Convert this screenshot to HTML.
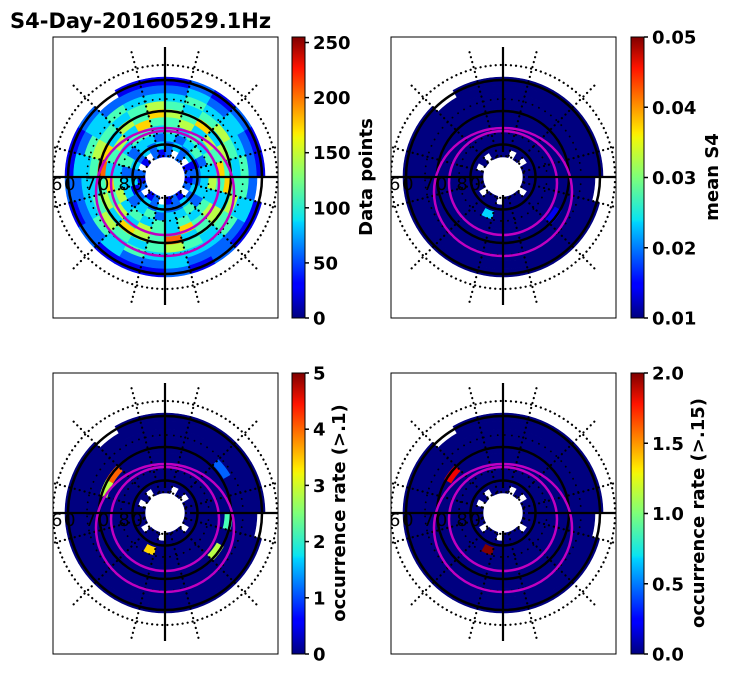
<!DOCTYPE html>
<html><head><meta charset="utf-8"><style>
html,body{margin:0;padding:0;background:#fff;}
svg text{font-family:"DejaVu Sans","Liberation Sans",sans-serif;}
</style></head><body>
<svg id="fig" width="731" height="674" viewBox="0 0 731 674" xmlns="http://www.w3.org/2000/svg">
<defs>
<linearGradient id="jet" x1="0" y1="1" x2="0" y2="0">
<stop offset="0" stop-color="#00007f"/><stop offset="0.11" stop-color="#0000ff"/><stop offset="0.125" stop-color="#0000ff"/>
<stop offset="0.34" stop-color="#00d4ff"/><stop offset="0.35" stop-color="#0ae4f0"/><stop offset="0.5" stop-color="#7dff7a"/>
<stop offset="0.64" stop-color="#f0f80a"/><stop offset="0.66" stop-color="#ffea00"/><stop offset="0.89" stop-color="#ff1300"/>
<stop offset="1" stop-color="#7f0000"/></linearGradient>
</defs>
<text x="10" y="28" font-size="21" font-weight="bold">S4-Day-20160529.1Hz</text>
</svg>
<script>
// ---- data (ring rows inner->outer, 24 sectors each; digit = fraction of colour-scale max /9; '.' = no data)
const ringEdges = [20,28,36,44,52,60,68,76,84,92,100];
const panel1Rows = [
"2.2.1212.121.21.212.1.21",
"232312232322323213232323",
"323423332433243233242332",
"434343534343434354343443",
"453546435463453546345364",
"546354635437456354763546",
"434543454345434543454345",
"343334434333343433343433",
"232322232223223222323222",
"121211.11212111212112.11"];
const panel2Rows = [
"0.0.0000.000.00.000.0.00",
"000000000000000000000000",
"000000000000030000000000",
"000000000000000000000000",
"000000000000000000000000",
"000000001000000000000000",
"000000000000000000000000",
"000000000000000000000000",
"000000000000000000000000",
"000000.00000000000000.00"];
const panel3Rows = [
"0.0.0000.000.00.000.0.00",
"000000000000000000000000",
"000000000000060000000000",
"000000000000000000000000",
"000000000000000000000000",
"000000405000000000057000",
"000200000000000000000000",
"000000000000000000000000",
"000000000000000000000000",
"000000.00000000000000.00"];
const panel4Rows = [
"0.0.0000.000.00.000.0.00",
"000000000000000000000000",
"000000000000090000000000",
"000000000000000000000000",
"000000000000000000000000",
"000000000000000000008000",
"000000000000000000000000",
"000000000000000000000000",
"000000000000000000000000",
"000000.00000000000000.00"];
const cbTicks1 = ["0","50","100","150","200","250"], cbVals1=[0,50,100,150,200,250];
const cbTicks2 = ["0.01","0.02","0.03","0.04","0.05"], cbVals2=[0.01,0.02,0.03,0.04,0.05];
const cbTicks3 = ["0","1","2","3","4","5"], cbVals3=[0,1,2,3,4,5];
const cbTicks4 = ["0.0","0.5","1.0","1.5","2.0"], cbVals4=[0,0.5,1,1.5,2];

const NS="http://www.w3.org/2000/svg";
const svg=document.getElementById('fig');
function mk(tag,attrs,parent){const e=document.createElementNS(NS,tag);for(const k in attrs)e.setAttribute(k,attrs[k]);(parent||svg).appendChild(e);return e;}
function jet(t){t=Math.max(0,Math.min(1,t));
 const r=Math.max(0,Math.min(1,1.5-Math.abs(4*t-3))),g=Math.max(0,Math.min(1,1.5-Math.abs(4*t-2))),b=Math.max(0,Math.min(1,1.5-Math.abs(4*t-1)));
 return `rgb(${Math.round(r*255)},${Math.round(g*255)},${Math.round(b*255)})`;}
function polar(cx,cy,r,deg){const a=deg*Math.PI/180;return [cx+r*Math.sin(a),cy-r*Math.cos(a)];}

function drawPanel(name,x0,y0,rows,vmin,vmax,ticks,vals,cbx,label,labelX){
 const g=mk('g',{});
 
 
 const cx=x0+112,cy=y0+140;
 const clip=mk('clipPath',{id:name+'-clip'},g);mk('rect',{x:x0,y:y0,width:225,height:281},clip);
 const inner=mk('g',{'clip-path':`url(#${name}-clip)`},g);
 const nS=rows[0].length;
 rows.forEach((row,i)=>{for(let s=0;s<nS;s++){const ch=row[s];if(ch==='.')continue;
  const v=vmin+(+ch)/9*(vmax-vmin);const r0=ringEdges[i],r1=ringEdges[i+1];
  const a0=s*360/nS,a1=(s+1)*360/nS;const p1=polar(cx,cy,r0,a0),p2=polar(cx,cy,r1,a0),p3=polar(cx,cy,r1,a1),p4=polar(cx,cy,r0,a1);
  const col=jet((v-vmin)/(vmax-vmin));
  const c=mk('path',{d:`M${p1}L${p2}A${r1},${r1} 0 0 1 ${p3}L${p4}A${r0},${r0} 0 0 0 ${p1}Z`,fill:col,stroke:col,'stroke-width':0.6},inner);
  
  }});
 [32.5,66,97].forEach(r=>{const c=mk('circle',{cx,cy,r,fill:'none',stroke:'#000','stroke-width':2.5},inner);
  });
 [21,112].forEach(r=>{const c=mk('circle',{cx,cy,r,fill:'none',stroke:'#000','stroke-width':2.2,'stroke-dasharray':'0.1 5','stroke-linecap':'round'},inner);
  });
 [44,78].forEach(r=>{const c=mk('circle',{cx,cy,r,fill:'none',stroke:'#000','stroke-width':1.8,'stroke-dasharray':'0.1 7','stroke-linecap':'round'},inner);
  });
 for(let k=0;k<12;k++){const a=15+30*k;const p=polar(cx,cy,22,a),q=polar(cx,cy,132,a);
  const l=mk('line',{x1:p[0],y1:p[1],x2:q[0],y2:q[1],stroke:'#000','stroke-width':2.2,'stroke-dasharray':'0.1 5','stroke-linecap':'round'},inner);
  }
 const m1=mk('ellipse',{cx,cy:cy+15,rx:69,ry:64,fill:'none',stroke:'#c000c0','stroke-width':2.5},inner);
 
 const m2=mk('ellipse',{cx,cy:cy+6,rx:54,ry:52,fill:'none',stroke:'#c000c0','stroke-width':2.5},inner);
 
 mk('line',{x1:cx,y1:cy-130,x2:cx,y2:cy-25,stroke:'#000','stroke-width':2.2},inner);
 mk('line',{x1:cx,y1:cy+18,x2:cx,y2:cy+128,stroke:'#000','stroke-width':2.2},inner);
 mk('line',{x1:x0,y1:cy,x2:cx-20,y2:cy,stroke:'#000','stroke-width':2.2},inner);
 mk('line',{x1:cx+25,y1:cy,x2:x0+225,y2:cy,stroke:'#000','stroke-width':2.2},inner);
 const t=mk('text',{x:x0-2,y:cy+13,'font-size':18,fill:'#000','textLength':92},inner);t.textContent='60 70 80';
 
 const b=mk('rect',{x:x0,y:y0,width:225,height:281,fill:'none',stroke:'#000','stroke-width':1},g);
 
 const cb=mk('rect',{x:cbx,y:y0,width:13,height:281,fill:'url(#jet)',stroke:'#000','stroke-width':1},g);
 
 vals.forEach((v,i)=>{const yy=y0+281-(v-vmin)/(vmax-vmin)*281;
  mk('line',{x1:cbx+13,y1:yy,x2:cbx+17,y2:yy,stroke:'#000','stroke-width':1.5},g);
  const tt=mk('text',{x:cbx+21,y:yy+6.5,'font-size':18,'font-weight':'bold'},g);tt.textContent=ticks[i];
  });
 const lb=mk('text',{x:labelX,y:y0+140,'font-size':18,'font-weight':'bold','text-anchor':'middle',transform:`rotate(-90 ${labelX} ${y0+140})`},g);
 lb.textContent=label;
 
}
drawPanel('data-points-panel',53,37,panel1Rows,0,255,cbTicks1,cbVals1,292,'Data points',372);
drawPanel('mean-s4-panel',391,37,panel2Rows,0.01,0.05,cbTicks2,cbVals2,631,'mean S4',718);
drawPanel('occurrence-rate-01-panel',53,373,panel3Rows,0,5,cbTicks3,cbVals3,292,'occurrence rate (>.1)',345);
drawPanel('occurrence-rate-015-panel',391,373,panel4Rows,0,2,cbTicks4,cbVals4,631,'occurrence rate (>.15)',704);
</script>
</body></html>
